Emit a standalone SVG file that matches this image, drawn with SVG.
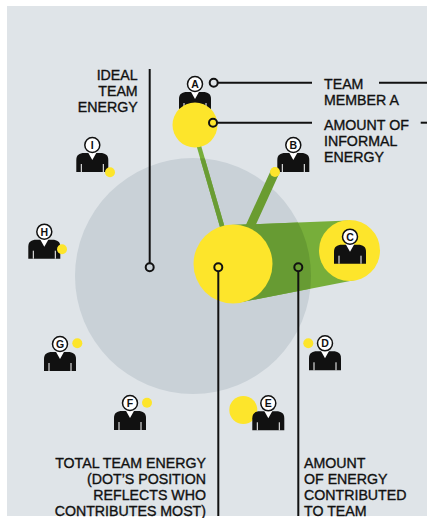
<svg xmlns="http://www.w3.org/2000/svg" width="427" height="518" viewBox="0 0 427 518">
<style>
.t{font-family:"Liberation Sans",Arial,sans-serif;font-size:14.2px;fill:#111;stroke:#111;stroke-width:0.35px}
.r{text-anchor:end}
.ltr{font-family:"Liberation Sans",Arial,sans-serif;font-size:10.5px;font-weight:bold;fill:#111;text-anchor:middle}
.ld{stroke:#111;stroke-width:2;fill:none}
.y{fill:#fde52b}
</style>
<defs>
<g id="person">
<path d="M-16,27 V15 C-16,10 -13,8 -8,8 H8 C13,8 16,10 16,15 V27 Z" fill="#111"/>
<path d="M-4.5,7 L4.5,7 L0,15 Z" fill="#fff"/>
<path d="M-11,19 V27 M11,19 V27" stroke="#fff" stroke-width="1"/>
<circle r="7.5" fill="#fff" stroke="#111" stroke-width="1.5"/>
</g>
<clipPath id="ideal"><circle cx="193" cy="276" r="118"/></clipPath>
</defs>
<rect x="7" y="6" width="420" height="510" fill="#dfe4e8"/>
<g id="ideal-energy"><circle cx="193" cy="276" r="118" fill="#c9d1d7"/></g>
<g id="flows">
<polygon points="231.5,225 348.3,220.5 355.2,279.9 240.4,302.3" fill="#77ae3a"/>
<polygon points="231.5,225 348.3,220.5 355.2,279.9 240.4,302.3" fill="#679b33" clip-path="url(#ideal)"/>
<line x1="196" y1="136" x2="233" y2="264" stroke="#77ae3a" stroke-width="4.5"/>
<line x1="196" y1="136" x2="233" y2="264" stroke="#6a9c34" stroke-width="4.5" clip-path="url(#ideal)"/>
<line x1="275" y1="172" x2="233" y2="264" stroke="#6a9c30" stroke-width="9" stroke-linecap="round"/>
</g>
<g id="total-energy"><circle class="y" cx="233" cy="264" r="39.5"/></g>
<g id="member-C"><circle class="y" cx="349.5" cy="250.5" r="30.5"/><use href="#person" x="350" y="236.7"/><text class="ltr" x="350" y="240.5">C</text></g>
<g id="member-A"><use href="#person" x="195" y="84"/><text class="ltr" x="195" y="87.8">A</text><circle class="y" cx="195" cy="125" r="22.5"/></g>
<g id="member-B"><use href="#person" x="293.3" y="145"/><text class="ltr" x="293.3" y="148.8">B</text><circle class="y" cx="275" cy="172" r="5"/></g>
<g id="member-D"><circle class="y" cx="308.3" cy="343.3" r="5"/><use href="#person" x="325" y="343.3"/><text class="ltr" x="325" y="347.1">D</text></g>
<g id="member-E"><circle class="y" cx="243.3" cy="410" r="14"/><use href="#person" x="268.3" y="403.3"/><text class="ltr" x="268.3" y="407.1">E</text></g>
<g id="member-F"><use href="#person" x="130" y="403"/><text class="ltr" x="130" y="406.8">F</text><circle class="y" cx="147" cy="402.7" r="5"/></g>
<g id="member-G"><use href="#person" x="60" y="344"/><text class="ltr" x="60" y="347.8">G</text><circle class="y" cx="77.3" cy="343.3" r="5"/></g>
<g id="member-H"><use href="#person" x="44.3" y="231.7"/><text class="ltr" x="44.3" y="235.5">H</text><circle class="y" cx="62" cy="249.3" r="5"/></g>
<g id="member-I"><use href="#person" x="92.3" y="145"/><text class="ltr" x="92.3" y="148.8">I</text><circle class="y" cx="110" cy="172.3" r="5"/></g>
<g id="connectors">
<line class="ld" x1="149.7" y1="69" x2="149.7" y2="263.3"/>
<circle class="ld" cx="149.7" cy="267.3" r="4"/>
<circle class="ld" cx="218.3" cy="267.3" r="4"/>
<line class="ld" x1="218.3" y1="271.3" x2="218.3" y2="516"/>
<circle class="ld" cx="298.3" cy="267.3" r="4"/>
<line class="ld" x1="298.3" y1="271.3" x2="298.3" y2="516"/>
<circle class="ld" cx="213.7" cy="82.7" r="4"/>
<line class="ld" x1="217.7" y1="82.7" x2="312" y2="82.7"/>
<line class="ld" x1="379" y1="82.7" x2="427" y2="82.7"/>
<circle class="ld" cx="213" cy="122.7" r="4"/>
<line class="ld" x1="217" y1="122.7" x2="312" y2="122.7"/>
<line class="ld" x1="420.7" y1="122.7" x2="427" y2="122.7"/>
</g>
<g id="labels">
<text class="t r" x="137.7" y="80">IDEAL</text>
<text class="t r" x="137.7" y="95.7">TEAM</text>
<text class="t r" x="137.7" y="111.7">ENERGY</text>
<text class="t" x="324" y="89">TEAM</text>
<text class="t" x="324" y="105">MEMBER A</text>
<text class="t" x="324" y="130">AMOUNT OF</text>
<text class="t" x="324" y="145.7">INFORMAL</text>
<text class="t" x="324" y="161.7">ENERGY</text>
<text class="t r" x="206" y="468.3">TOTAL TEAM ENERGY</text>
<text class="t r" x="206" y="484.3">(DOT’S POSITION</text>
<text class="t r" x="206" y="500">REFLECTS WHO</text>
<text class="t r" x="206" y="515.7">CONTRIBUTES MOST)</text>
<text class="t" x="304" y="468.3">AMOUNT</text>
<text class="t" x="304" y="484.3">OF ENERGY</text>
<text class="t" x="304" y="500">CONTRIBUTED</text>
<text class="t" x="304" y="515.7">TO TEAM</text>
</g>
</svg>
